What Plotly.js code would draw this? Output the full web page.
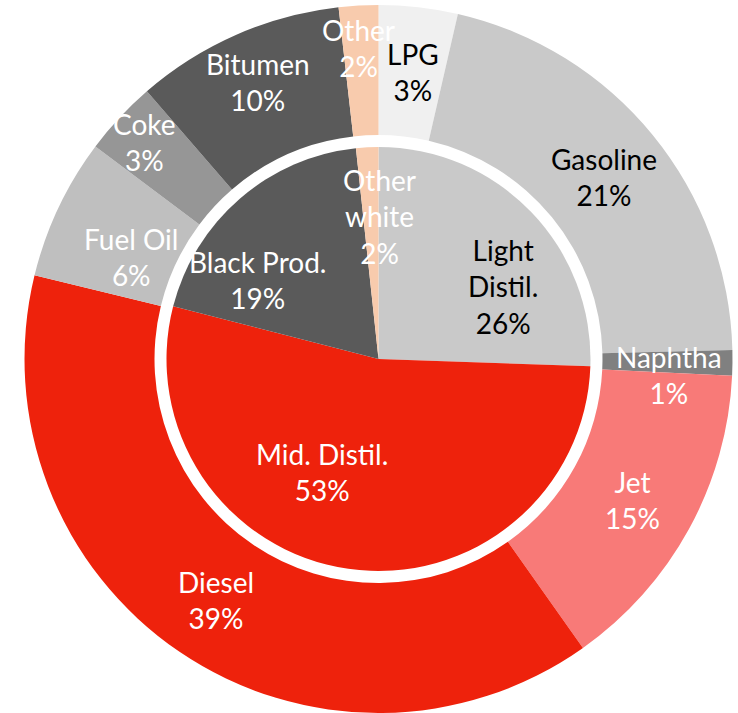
<!DOCTYPE html>
<html>
<head>
<meta charset="utf-8">
<script src="https://cdn.plot.ly/plotly-3.0.1.min.js"></script>
<style>html,body{margin:0;padding:0;background:#fff;}#chart{width:738px;height:713px;}</style>
</head>
<body>
<div id="chart"></div>
<script>
// ---- data ----
var innerLabels = ["Light<br>Distil.", "Mid. Distil.", "Black Prod.", "Other<br>white"];
var innerValues = [25.55, 53.45, 19.3, 1.7];
var innerPctText = ["26%", "53%", "19%", "2%"];

var outerLabels = ["LPG", "Gasoline", "Naphtha", "Jet", "Diesel", "Fuel Oil", "Coke", "Bitumen", "Other"];
var outerValues = [3.6, 21.0, 1.15, 14.45, 38.6, 6.45, 3.4, 9.55, 1.8];
var outerPctText = ["3%", "21%", "1%", "15%", "39%", "6%", "3%", "10%", "2%"];

// ---- styles ----
var innerColors = ["#c9c9c9", "#ee220c", "#5a5a5a", "#f8cbad"];
var innerTextColors = ["#000000", "#ffffff", "#ffffff", "#ffffff"];
var outerColors = ["#f0f0f0", "#c9c9c9", "#808080", "#f87a78", "#ee220c", "#bfbfbf", "#969696", "#5a5a5a", "#f8cbad"];
var outerTextColors = ["#000000", "#000000", "#ffffff", "#ffffff", "#ffffff", "#ffffff", "#ffffff", "#ffffff", "#ffffff"];
// label nudges in pixels relative to slice centroid (placement style)
var innerNudge = [[22, 27], [-36, -29], [-27, 29], [9, 0]];
var outerNudge = [[2, 0], [2, 1], [2, 13], [1, 2], [0, 2], [14, 21], [-23, -20], [-4, -12], [-4, -22]];

var W = 738, H = 713;
var M = {l: 19, r: 0, t: 5, b: 0};
var plotW = W - M.l - M.r, plotH = H - M.t - M.b;
var R_OUT = Math.min(plotW, plotH) / 2;
var R_IN = 212;
var HOLE = 224 / R_OUT;
var cx = M.l + plotW / 2, cy = M.t + plotH / 2;
var inDomY = [0.5 - R_IN / plotH, 0.5 + R_IN / plotH];
var inDomX = [0.2, 0.8];

var FONT = "Lato, 'Liberation Sans', sans-serif";
var FS = 28;

function labelAnnotations(labels, values, pct, colors, nudge, radius) {
  var total = values.reduce(function (a, b) { return a + b; }, 0);
  var cum = 0, out = [];
  for (var i = 0; i < values.length; i++) {
    var mid = (cum + values[i] / 2) / total;
    cum += values[i];
    var ang = mid * 2 * Math.PI;
    var px = cx + radius * Math.sin(ang) + nudge[i][0];
    var py = cy - radius * Math.cos(ang) + nudge[i][1];
    out.push({
      xref: "paper", yref: "paper",
      x: (px - M.l) / plotW, y: 1 - (py - M.t) / plotH,
      xanchor: "center", yanchor: "middle",
      text: labels[i] + "<br>" + pct[i],
      showarrow: false,
      align: "center",
      font: {family: FONT, size: FS, color: colors[i]}
    });
  }
  return out;
}

var outerTrace = {
  type: "pie",
  labels: outerLabels,
  values: outerValues,
  sort: false,
  direction: "clockwise",
  rotation: 0,
  hole: HOLE,
  domain: {x: [0, 1], y: [0, 1]},
  marker: {colors: outerColors, line: {width: 0}},
  textinfo: "none",
  hoverinfo: "none",
  showlegend: false
};
var innerTrace = {
  type: "pie",
  labels: innerLabels,
  values: innerValues,
  sort: false,
  direction: "clockwise",
  rotation: 0,
  domain: {x: inDomX, y: inDomY},
  marker: {colors: innerColors, line: {width: 0}},
  textinfo: "none",
  hoverinfo: "none",
  showlegend: false
};

var annotations = labelAnnotations(outerLabels, outerValues, outerPctText, outerTextColors, outerNudge, (R_OUT + 224) / 2)
  .concat(labelAnnotations(innerLabels, innerValues, innerPctText, innerTextColors, innerNudge, 143));

var layout = {
  width: W, height: H,
  margin: M,
  paper_bgcolor: "#ffffff",
  plot_bgcolor: "#ffffff",
  showlegend: false,
  annotations: annotations,
  font: {family: FONT}
};

Plotly.newPlot("chart", [outerTrace, innerTrace], layout, {staticPlot: true, displayModeBar: false});
</script>
</body>
</html>
